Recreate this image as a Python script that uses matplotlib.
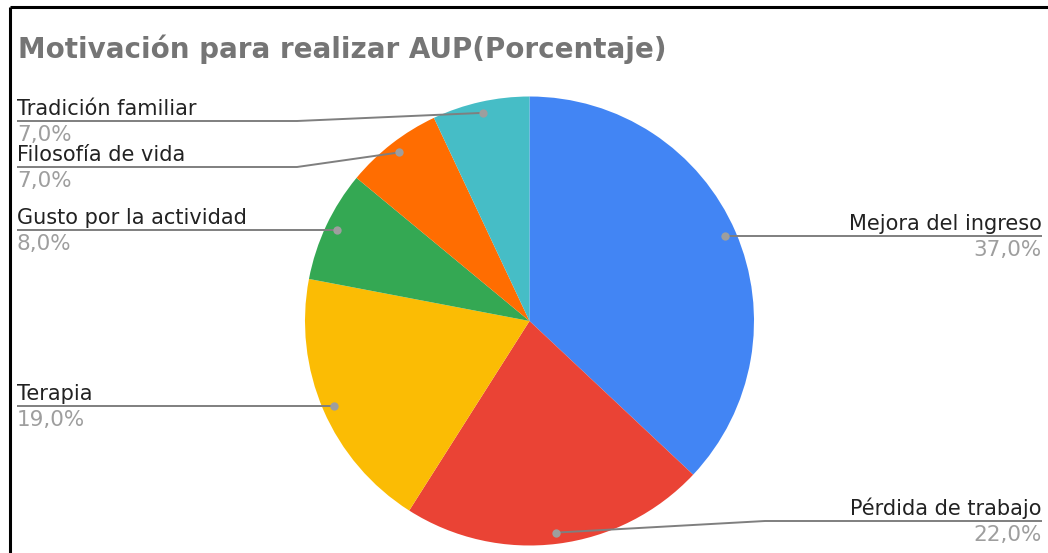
import numpy as np
import matplotlib
matplotlib.use("Agg")
import matplotlib.pyplot as plt

labels = ["Mejora del ingreso", "Pérdida de trabajo", "Terapia",
          "Gusto por la actividad", "Filosofía de vida", "Tradición familiar"]
valores = [37.0, 22.0, 19.0, 8.0, 7.0, 7.0]
colores = ["#4285F4", "#EA4335", "#FBBC04", "#34A853", "#FF6D01", "#46BDC6"]

W, H = 1048, 553
fig = plt.figure(figsize=(W / 100, H / 100), dpi=100)
ax = fig.add_axes([0, 0, 1, 1])
ax.set_xlim(0, W)
ax.set_ylim(0, H)
ax.set_aspect("equal")
ax.axis("off")

# centro y radio del pastel (px, y hacia arriba)
cx, cy, r = 529.5, H - 321, 224.5
ax.pie(valores, colors=colores, startangle=90, counterclock=False,
       center=(cx, cy), radius=r, wedgeprops=dict(linewidth=0))
ax.set_xlim(0, W)
ax.set_ylim(0, H)

# lineas guia: punto codo (o None) y extremo de la linea, lado
guias = [
    (None, 1042, "right"),
    ((765, H - 521), 1042, "right"),
    (None, 17, "left"),
    (None, 17, "left"),
    ((297, H - 167), 17, "left"),
    ((297, H - 121), 17, "left"),
]

total = sum(valores)
acum = 0
for lab, v, (codo, xfin, lado) in zip(labels, valores, guias):
    ang = np.deg2rad(90 - (acum + v / 2) / total * 360)
    acum += v
    px = cx + 0.95 * r * np.cos(ang)
    py = cy + 0.95 * r * np.sin(ang)
    if codo is None:
        xs = [px, xfin]
        ys = [py, py]
    else:
        xs = [px, codo[0], xfin]
        ys = [py, codo[1], codo[1]]
    ax.plot(xs, ys, color="#7f7f7f", lw=1.4, solid_capstyle="butt", zorder=3)
    ax.plot(px, py, "o", ms=6, color="#9e9e9e", mec="none", zorder=4)
    ly = ys[-1]
    ha = "right" if lado == "right" else "left"
    ax.text(xfin, ly + 6, lab, ha=ha, va="baseline", fontsize=15,
            color="#222222")
    ax.text(xfin, ly - 4, f"{v:.1f}%".replace(".", ","), ha=ha, va="top",
            fontsize=15.5, color="#9e9e9e")

ax.text(18, H - 58, "Motivación para realizar AUP(Porcentaje)", ha="left",
        va="baseline", fontsize=20, fontweight="bold", color="#757575")

# marco negro (arriba e izquierda)
ax.plot([10, W], [H - 7, H - 7], color="black", lw=2.2, solid_capstyle="butt")
ax.plot([10, 10], [0, H - 7], color="black", lw=2.2, solid_capstyle="butt")

fig.savefig("out.png", dpi=100)
